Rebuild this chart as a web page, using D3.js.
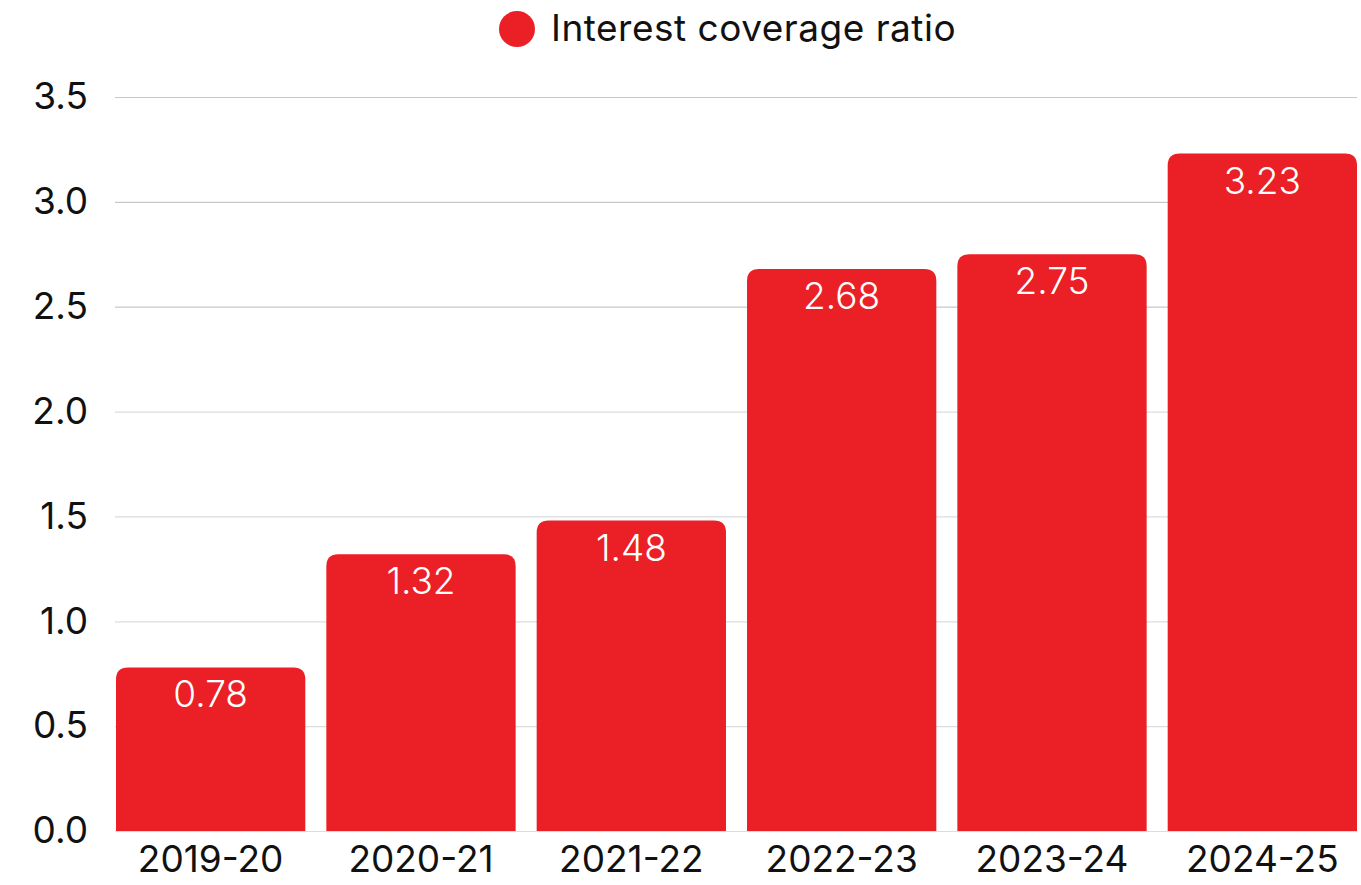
<!DOCTYPE html>
<html>
<head>
<meta charset="utf-8">
<script src="https://cdn.jsdelivr.net/npm/d3@7"></script>
<style>
  html, body { margin: 0; padding: 0; background: #fff; }
  svg { display: block; font-family: "Inter", "Roboto", sans-serif; }
</style>
</head>
<body>
<svg id="chart" width="1361" height="885"></svg>
<script>
// chart values
const years = ["2019-20", "2020-21", "2021-22", "2022-23", "2023-24", "2024-25"];
const ratios = [0.78, 1.32, 1.48, 2.68, 2.75, 3.23];
const yTicks = [0, 0.5, 1, 1.5, 2, 2.5, 3, 3.5];
const seriesName = "Interest coverage ratio";

const barColor = "#EB1F26";
const fontSize = 37;
const margin = { top: 97, right: 4, bottom: 54, left: 116 };
const svgWidth = 1361, svgHeight = 885;
const width = svgWidth - margin.left - margin.right;
const height = svgHeight - margin.top - margin.bottom;

const svg = d3.select("#chart");
const g = svg.append("g").attr("transform", `translate(${margin.left},${margin.top})`);

const x = d3.scaleBand()
  .domain(years)
  .range([0, width])
  .paddingInner(0.1)
  .paddingOuter(0);

const y = d3.scaleLinear()
  .domain([0, 3.5])
  .range([height, 0]);

// grid lines
g.append("g")
  .selectAll("line")
  .data(yTicks)
  .join("line")
  .attr("x1", -1)
  .attr("x2", width)
  .attr("y1", d => y(d) + 0.5)
  .attr("y2", d => y(d) + 0.5)
  .attr("stroke", d => d >= 2.5 ? "#c8c8c8" : "#dcdcdc")
  .attr("stroke-width", 1.2);

// y axis labels
const yAxis = g.append("g")
  .call(d3.axisLeft(y).tickValues(yTicks).tickFormat(d3.format(".1f")).tickSize(0).tickPadding(28));
yAxis.select(".domain").remove();
yAxis.selectAll("text")
  .attr("font-size", fontSize)
  .attr("font-family", "Inter, Roboto, sans-serif")
  .attr("fill", "#111");

// x axis labels
const xAxis = g.append("g")
  .attr("transform", `translate(0,${height})`)
  .call(d3.axisBottom(x).tickSize(0).tickPadding(15));
xAxis.select(".domain").remove();
xAxis.selectAll("text")
  .attr("font-size", fontSize)
  .attr("font-family", "Inter, Roboto, sans-serif")
  .attr("fill", "#111");

// bars with rounded top corners
const r = 12;
function barPath(d, i) {
  const x0 = x(years[i]), x1 = x0 + x.bandwidth();
  const top = y(d), bottom = y(0);
  return `M${x0},${bottom} V${top + r} Q${x0},${top} ${x0 + r},${top} H${x1 - r} Q${x1},${top} ${x1},${top + r} V${bottom} Z`;
}
g.append("g")
  .selectAll("path")
  .data(ratios)
  .join("path")
  .attr("d", barPath)
  .attr("fill", barColor);

// value labels
g.append("g")
  .selectAll("text")
  .data(ratios)
  .join("text")
  .attr("x", (d, i) => x(years[i]) + x.bandwidth() / 2)
  .attr("y", d => y(d) + 40)
  .attr("text-anchor", "middle")
  .attr("font-size", fontSize)
  .attr("font-weight", 300)
  .attr("fill", "#fff")
  .text(d => d.toFixed(2));

// legend
const legend = svg.append("g");
legend.append("circle")
  .attr("cx", 517)
  .attr("cy", 29)
  .attr("r", 18)
  .attr("fill", barColor);
legend.append("text")
  .attr("x", 551)
  .attr("y", 41)
  .attr("font-size", fontSize)
  .attr("letter-spacing", 0.5)
  .attr("fill", "#111")
  .text(seriesName);
</script>
</body>
</html>
